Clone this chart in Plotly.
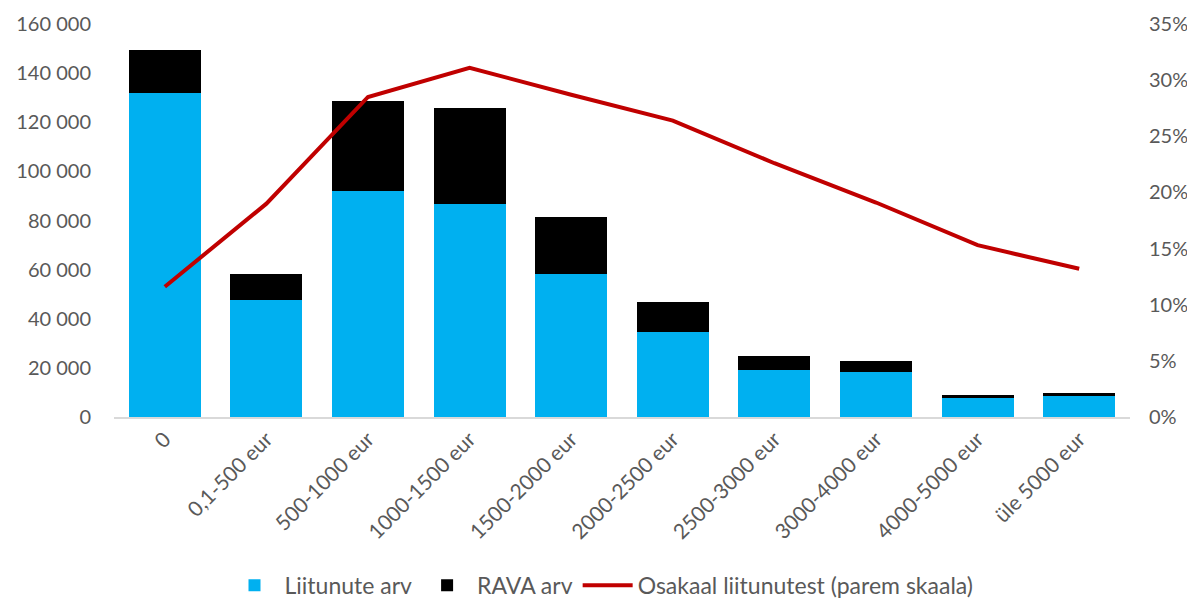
import plotly.graph_objects as go

categories = ["0", "0,1-500 eur", "500-1000 eur", "1000-1500 eur", "1500-2000 eur",
              "2000-2500 eur", "2500-3000 eur", "3000-4000 eur", "4000-5000 eur", "üle 5000 eur"]
liitunute = [131900, 47600, 92000, 86700, 58200, 34600, 19100, 18300, 7700, 8600]
rava = [17500, 10600, 36600, 39100, 23200, 12200, 5700, 4500, 1300, 1200]
osakaal = [0.116, 0.190, 0.285, 0.311, 0.287, 0.264, 0.226, 0.191, 0.153, 0.132]

font_family = "Lato, 'Open Sans', sans-serif"
gray = "#595959"

fig = go.Figure()
fig.add_trace(go.Bar(x=categories, y=liitunute, name="Liitunute arv",
                     marker=dict(color="#00B0F0", line=dict(width=0))))
fig.add_trace(go.Bar(x=categories, y=rava, name="RAVA arv",
                     marker=dict(color="#000000", line=dict(width=0))))
fig.add_trace(go.Scatter(x=categories, y=osakaal, name="Osakaal liitunutest (parem skaala)",
                         mode="lines", line=dict(color="#C00000", width=4), yaxis="y2"))

fig.update_layout(
    width=1187, height=594,
    barmode="stack", bargap=0.29,
    separators=". ",
    paper_bgcolor="white", plot_bgcolor="white",
    margin=dict(l=106, r=65, t=16, b=185, autoexpand=False),
    font=dict(family=font_family, size=20, color=gray),
    xaxis=dict(tickangle=-45, showline=True, linecolor="#D9D9D9", linewidth=1.5,
               ticks="", showgrid=False, automargin=False, tickfont=dict(size=21, color=gray)),
    yaxis=dict(range=[0, 160000], dtick=20000, tickformat=",", showgrid=False, automargin=False,
               zeroline=False, showline=False, ticks="", ticklabelstandoff=22,
               tickfont=dict(size=20, color=gray)),
    yaxis2=dict(range=[0, 0.35], dtick=0.05, tickformat=".0%", overlaying="y", side="right",
                showgrid=False, zeroline=False, showline=False, ticks="", automargin=False,
                ticklabelstandoff=18, tickfont=dict(size=20, color=gray)),
    legend=dict(orientation="h", x=0.5, xanchor="center", xref="container",
                y=0.028, yanchor="middle", yref="container", itemwidth=50,
                font=dict(size=23, color=gray), traceorder="normal"),
    showlegend=True,
)

fig.write_html("out.html")
